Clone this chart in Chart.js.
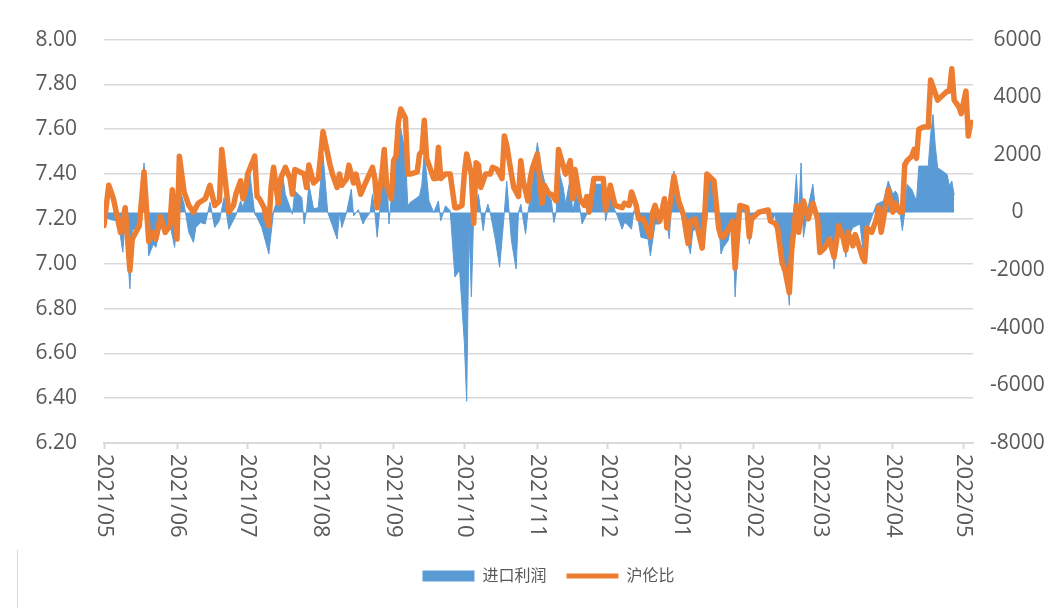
<!DOCTYPE html>
<html>
<head>
<meta charset="utf-8">
<script src="https://cdn.jsdelivr.net/npm/chart.js@4.4.1/dist/chart.umd.min.js"></script>
<style>
  html, body { margin: 0; padding: 0; background: #fff; }
  #wrap { position: relative; width: 1061px; height: 608px; }
  #frame { position: absolute; left: 17px; top: 550px; width: 1px; height: 58px; background: #d9d9d9; }
</style>
</head>
<body>
<div id="wrap">
  <canvas id="chart" width="1061" height="608"></canvas>
  <div id="frame"></div>
</div>
<script>
// x values are days since 2021-05-01
const monthDay = [0, 31, 61, 92, 123, 153, 184, 214, 245, 276, 304, 335, 365];
const monthLabel = ['2021/05', '2021/06', '2021/07', '2021/08', '2021/09', '2021/10', '2021/11',
  '2021/12', '2022/01', '2022/02', '2022/03', '2022/04', '2022/05'];

// 沪伦比 (left axis)
const ratioDay = [0, 2, 4, 7, 9, 11, 12, 15, 17, 19, 21, 22, 24, 26, 28, 29, 31, 32, 34, 36, 38, 40, 43, 45, 47, 49,
  50, 53, 55, 56, 58, 59, 60, 61, 64, 65, 66, 68, 69, 70, 71, 72, 74, 75, 77, 79, 80, 81, 83, 85, 86, 87, 89, 90,
  91, 93, 94, 96, 97, 99, 100, 101, 103, 104, 106, 107, 109, 111, 114, 115, 116, 118, 119, 120, 122, 123, 124,
  125, 126, 128, 129, 130, 133, 134, 135, 136, 137, 140, 141, 142, 143, 145, 147, 149, 150, 152, 153, 154, 156,
  157, 158, 159, 160, 162, 164, 165, 167, 169, 170, 171, 173, 174, 176, 177, 178, 180, 181, 182, 184, 186, 187,
  189, 190, 192, 193, 196, 198, 199, 200, 202, 204, 205, 206, 208, 210, 212, 213, 215, 217, 220, 221, 223, 224,
  226, 227, 229, 232, 233, 234, 236, 238, 239, 242, 244, 246, 248, 249, 251, 252, 254, 255, 256, 259, 261, 262,
  263, 265, 267, 268, 270, 273, 274, 275, 278, 282, 283, 285, 286, 288, 289, 291, 292, 294, 295, 297, 299, 301,
  303, 304, 306, 308, 310, 312, 314, 315, 316, 318, 319, 320, 322, 323, 324, 326, 328, 329, 330, 331, 333, 335,
  336, 338, 339, 340, 341, 343, 344, 345, 346, 348, 350, 351, 352, 354, 355, 358, 359, 360, 361, 363, 364, 366,
  367, 368, 369];
const ratioValue = [7.17, 7.35, 7.29, 7.14, 7.25, 6.97, 7.11, 7.17, 7.41, 7.10, 7.14, 7.11, 7.21, 7.14, 7.17, 7.33,
  7.11, 7.48, 7.32, 7.26, 7.23, 7.27, 7.29, 7.35, 7.26, 7.28, 7.51, 7.23, 7.26, 7.31, 7.37, 7.29, 7.32, 7.40, 7.48,
  7.30, 7.29, 7.25, 7.20, 7.17, 7.35, 7.43, 7.27, 7.38, 7.43, 7.38, 7.31, 7.42, 7.41, 7.40, 7.34, 7.44, 7.36, 7.37,
  7.38, 7.59, 7.54, 7.44, 7.40, 7.34, 7.40, 7.35, 7.38, 7.44, 7.36, 7.40, 7.31, 7.36, 7.43, 7.38, 7.25, 7.40, 7.51,
  7.35, 7.29, 7.46, 7.48, 7.63, 7.69, 7.65, 7.40, 7.40, 7.41, 7.49, 7.50, 7.64, 7.47, 7.38, 7.38, 7.52, 7.38, 7.40,
  7.40, 7.25, 7.25, 7.26, 7.40, 7.49, 7.40, 7.18, 7.45, 7.44, 7.34, 7.40, 7.40, 7.43, 7.42, 7.38, 7.57, 7.53, 7.40,
  7.34, 7.30, 7.46, 7.37, 7.28, 7.38, 7.43, 7.49, 7.27, 7.35, 7.31, 7.31, 7.28, 7.51, 7.40, 7.46, 7.29, 7.42, 7.29,
  7.26, 7.30, 7.23, 7.38, 7.38, 7.38, 7.24, 7.35, 7.26, 7.25, 7.27, 7.26, 7.32, 7.26, 7.20, 7.20, 7.12, 7.23, 7.26,
  7.19, 7.29, 7.16, 7.39, 7.28, 7.22, 7.09, 7.19, 7.20, 7.16, 7.07, 7.20, 7.40, 7.37, 7.16, 7.12, 7.12, 7.15, 7.19,
  6.98, 7.26, 7.25, 7.12, 7.20, 7.23, 7.24, 7.19, 7.18, 7.16, 7.00, 6.98, 6.87, 7.06, 7.26, 7.14, 7.28, 7.20, 7.27,
  7.20, 7.05, 7.07, 7.11, 7.03, 7.17, 7.11, 7.06, 7.14, 7.08, 7.13, 7.10, 7.03, 7.01, 7.16, 7.14, 7.20, 7.25, 7.14,
  7.20, 7.33, 7.23, 7.27, 7.23, 7.23, 7.44, 7.46, 7.48, 7.51, 7.47, 7.60, 7.61, 7.61, 7.82, 7.79, 7.73, 7.74, 7.77,
  7.77, 7.87, 7.73, 7.70, 7.67, 7.77, 7.57, 7.63, 7.63];

// 进口利润 (right axis)
const profitDay = [0, 3, 6, 8, 9, 11, 12, 15, 17, 19, 21, 22, 24, 26, 28, 30, 32, 34, 36, 38, 39, 41, 43, 45, 47, 49,
  51, 53, 56, 58, 59, 60, 62, 64, 65, 67, 70, 72, 73, 76, 77, 80, 81, 84, 85, 86, 87, 89, 91, 93, 95, 99, 100, 101,
  103, 105, 106, 108, 110, 111, 113, 114, 115, 116, 117, 118, 120, 121, 122, 123, 125, 126, 128, 129, 130, 132,
  134, 135, 136, 138, 140, 142, 143, 145, 147, 149, 151, 153, 154, 155, 156, 157, 159, 161, 162, 163, 164, 166,
  168, 170, 171, 173, 175, 176, 177, 179, 180, 182, 184, 186, 188, 190, 191, 192, 193, 195, 196, 198, 199, 201,
  202, 203, 205, 208, 212, 213, 215, 217, 218, 220, 221, 222, 224, 225, 227, 228, 231, 232, 234, 236, 238, 240,
  242, 244, 246, 247, 249, 250, 252, 254, 256, 257, 259, 261, 262, 263, 265, 266, 267, 268, 270, 271, 273, 274,
  275, 278, 282, 284, 285, 288, 290, 291, 292, 294, 295, 296, 297, 299, 301, 303, 304, 306, 309, 310, 312, 314,
  315, 316, 318, 321, 323, 324, 326, 328, 331, 333, 335, 336, 337, 339, 340, 341, 343, 345, 346, 350, 351, 352,
  353, 354, 356, 358, 359, 360, 361];
const profitValue = [-150, -250, -300, -1380, -170, -2650, -630, -400, 1720, -1500, -1090, -1210, -520, -690, -400,
  -1210, 860, 290, -690, -1040, -520, -350, -400, 350, -520, -290, 520, -580, -100, 400, 170, 520, 1320, -50, -170,
  -520, -1440, 50, 290, 1210, 630, -60, 750, 520, -400, 50, 980, 120, 170, 2010, 0, -920, 0, -520, 0, 810, -120,
  100, -400, -230, 0, 630, 0, -860, 0, 1210, 1550, -400, 520, 1440, 2130, 2930, 2010, 230, 350, 460, 580, 980,
  2130, 400, 0, 400, -290, 230, 60, -2240, -2000, -4500, -6550, -500, -2930, 0, 630, -630, 0, 290, 0, -860, -1900,
  0, 1090, -980, -1960, 0, 290, -750, 0, 980, 2420, 1440, 750, 400, -350, 0, 1500, 860, 300, 1200, 0, 900, 200,
  -400, -60, 980, 980, -290, 520, 60, -120, -580, -350, -400, -580, 60, -350, -860, -920, -1500, -400, -400, 290,
  -920, 1440, 170, 170, -750, -1440, -640, -520, -980, -290, 1210, 860, -290, -1440, -1210, -980, -580, -400,
  -2930, 170, 230, 60, -1090, -290, -60, 0, -230, -60, -2010, -2130, -3220, -980, 1320, -170, 1720, -860, 170,
  980, -630, -1380, -1090, -800, -1960, -350, -860, -1550, -860, -520, -400, -1780, -630, -170, 290, 400, 1090,
  630, 750, 630, -630, 0, 980, 800, 400, 1610, 1610, 2700, 3400, 2300, 1550, 1440, 1320, 920, 1090, 600];

const TEXT = '#595959';
const GRID = '#d9d9d9';
const FONT = "'Open Sans', 'Noto Sans CJK SC', sans-serif";
const BLUE = '#5b9bd5';
const ORANGE = '#ed7d31';

function points(days, values) {
  return days.map((d, i) => ({ x: d, y: values[i] }));
}

// month labels read top to bottom, which Chart.js rotation cannot do
const monthLabels = {
  id: 'monthLabels',
  afterDraw(chart) {
    const { ctx, chartArea, scales: { x } } = chart;
    ctx.save();
    ctx.fillStyle = TEXT;
    ctx.font = `22px ${FONT}`;
    ctx.textAlign = 'left';
    ctx.textBaseline = 'middle';
    monthDay.forEach((d, i) => {
      ctx.save();
      ctx.translate(x.getPixelForValue(d), chartArea.bottom + 11);
      ctx.rotate(Math.PI / 2);
      ctx.fillText(monthLabel[i], 0, 0);
      ctx.restore();
    });
    ctx.restore();
  }
};

new Chart(document.getElementById('chart'), {
  type: 'line',
  data: {
    datasets: [
      {
        label: '进口利润',
        data: points(profitDay, profitValue),
        yAxisID: 'y1',
        fill: 'origin',
        backgroundColor: BLUE,
        borderColor: BLUE,
        borderWidth: 1,
        pointRadius: 0,
        pointStyle: 'rect',
        pointBackgroundColor: BLUE,
        pointBorderColor: BLUE,
        pointBorderWidth: 0,
        tension: 0,
        order: 1
      },
      {
        label: '沪伦比',
        data: points(ratioDay, ratioValue),
        yAxisID: 'y',
        fill: false,
        backgroundColor: ORANGE,
        borderColor: ORANGE,
        borderWidth: 5.5,
        borderJoinStyle: 'round',
        borderCapStyle: 'round',
        pointRadius: 0,
        pointStyle: 'line',
        pointBackgroundColor: ORANGE,
        pointBorderColor: ORANGE,
        pointBorderWidth: 5,
        tension: 0,
        order: 0
      }
    ]
  },
  options: {
    responsive: false,
    animation: false,
    layout: { padding: { left: 36, top: 37, right: 0, bottom: 14 } },
    plugins: {
      legend: {
        position: 'bottom',
        labels: {
          usePointStyle: true,
          pointStyleWidth: 52,
          boxHeight: 11,
          padding: 20,
          color: TEXT,
          font: { size: 16, family: FONT },
          sort: (a, b) => a.datasetIndex - b.datasetIndex
        }
      },
      tooltip: { enabled: false }
    },
    scales: {
      x: {
        type: 'linear',
        min: 0,
        max: 369,
        afterBuildTicks: (scale) => { scale.ticks = monthDay.map((v) => ({ value: v })); },
        afterFit: (scale) => { scale.height = 105; },
        ticks: { display: false },
        grid: { drawOnChartArea: false, drawTicks: true, tickLength: 6, tickColor: GRID, tickWidth: 2 },
        border: { display: true, color: GRID, width: 2 }
      },
      y: {
        position: 'left',
        min: 6.2,
        max: 8.0,
        afterFit: (scale) => { scale.width = 68; },
        ticks: {
          stepSize: 0.2,
          padding: 27,
          color: TEXT,
          font: { size: 21, family: FONT },
          callback: (v) => v.toFixed(2)
        },
        grid: { color: GRID, lineWidth: 1.5, drawTicks: false },
        border: { display: false }
      },
      y1: {
        position: 'right',
        min: -8000,
        max: 6000,
        afterFit: (scale) => { scale.width = 88; },
        ticks: {
          stepSize: 2000,
          padding: 17,
          crossAlign: 'center',
          color: TEXT,
          font: { size: 21, family: FONT },
          callback: (v) => String(v)
        },
        grid: { drawOnChartArea: false, drawTicks: false },
        border: { display: false }
      }
    }
  },
  plugins: [monthLabels]
});
</script>
</body>
</html>
